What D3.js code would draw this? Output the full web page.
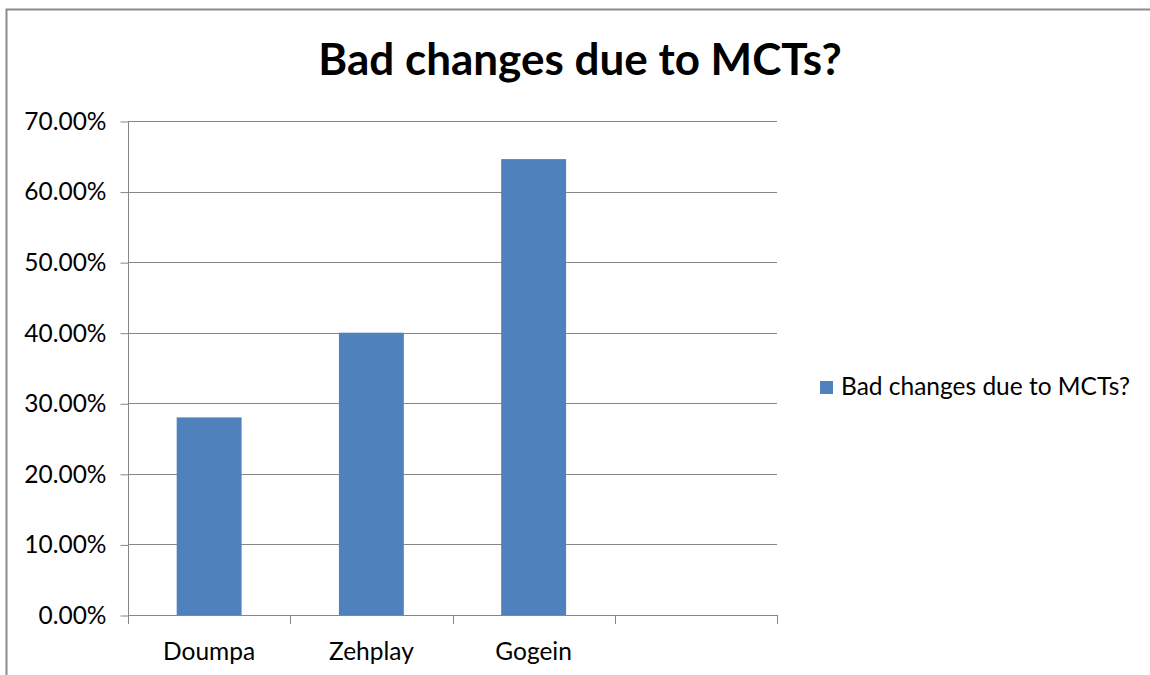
<!DOCTYPE html>
<html>
<head>
<meta charset="utf-8">
<script src="https://cdn.jsdelivr.net/npm/d3@7"></script>
<style>
  html, body { margin: 0; padding: 0; background: #fff; }
  svg { display: block; }
  text { font-family: Lato, "Open Sans", sans-serif; fill: #000; }
</style>
</head>
<body>
<svg id="chart" width="1150" height="675"></svg>
<script>
// Chart data
const categories = ["Doumpa", "Zehplay", "Gogein", ""];
const seriesName = "Bad changes due to MCTs?";
const seriesValues = [0.28, 0.40, 0.646, null];
const yTicks = [0, 0.1, 0.2, 0.3, 0.4, 0.5, 0.6, 0.7];
const chartTitle = "Bad changes due to MCTs?";

const svg = d3.select("#chart");
const W = 1150, H = 675;
const plot = { left: 128, right: 777, top: 121, bottom: 615 };
const barColor = "#4F81BD";
const gridColor = "#868686";
const labelSize = "24.5px";

// Outer chart frame (top and left edges visible)
svg.append("path")
  .attr("d", `M6.5,${H} L6.5,9.5 L${W},9.5`)
  .attr("fill", "none")
  .attr("stroke", "#8c8c8c")
  .attr("stroke-width", 2);

// Title
svg.append("text")
  .attr("x", 580)
  .attr("y", 75)
  .attr("text-anchor", "middle")
  .style("font-weight", "bold")
  .style("font-size", "44px")
  .text(chartTitle);

// One band per category; bars are centred in their band
const xb = d3.scaleBand()
  .domain(categories.map((c, i) => i))
  .range([plot.left, plot.right]);
const barWidth = xb.bandwidth() / 2.5;

const y = d3.scaleLinear().domain([0, 0.7]).range([plot.bottom, plot.top]);

// Horizontal gridlines
svg.append("g")
  .selectAll("line")
  .data(yTicks.filter(t => t > 0))
  .join("line")
  .attr("x1", plot.left)
  .attr("x2", plot.right)
  .attr("y1", d => Math.round(y(d)) + 0.5)
  .attr("y2", d => Math.round(y(d)) + 0.5)
  .attr("stroke", gridColor)
  .attr("stroke-width", 1);

// Bars
svg.append("g")
  .selectAll("rect")
  .data(seriesValues.map((v, i) => ({ v, i })).filter(d => d.v != null))
  .join("rect")
  .attr("x", d => xb(d.i) + (xb.bandwidth() - barWidth) / 2)
  .attr("width", barWidth)
  .attr("y", d => y(d.v))
  .attr("height", d => y(0) - y(d.v))
  .attr("fill", barColor);

// Y axis
const yAxis = d3.axisLeft(y)
  .tickValues(yTicks)
  .tickFormat(d3.format(".2%"))
  .tickSize(8)
  .tickPadding(14);
const gy = svg.append("g")
  .attr("transform", `translate(${plot.left + 0.5},0.5)`)
  .call(yAxis);
gy.select(".domain").attr("stroke", gridColor).attr("d", `M0,${plot.top}V${plot.bottom}`);
gy.selectAll(".tick line").attr("stroke", gridColor);
gy.selectAll(".tick text")
  .style("font-size", labelSize)
  .style("font-family", "Lato, 'Open Sans', sans-serif")
  .attr("fill", "#000");

// X axis: ticks at category boundaries
const boundaries = categories.map((c, i) => xb(i)).concat([plot.right]);
const gx = svg.append("g");
gx.append("line")
  .attr("x1", plot.left).attr("x2", plot.right)
  .attr("y1", plot.bottom + 0.5).attr("y2", plot.bottom + 0.5)
  .attr("stroke", gridColor);
gx.selectAll("line.tk")
  .data(boundaries)
  .join("line")
  .attr("class", "tk")
  .attr("x1", d => Math.round(d) + 0.5).attr("x2", d => Math.round(d) + 0.5)
  .attr("y1", plot.bottom).attr("y2", plot.bottom + 9)
  .attr("stroke", gridColor);
gx.selectAll("text")
  .data(categories.map((c, i) => ({ c, i })))
  .join("text")
  .attr("x", d => xb(d.i) + xb.bandwidth() / 2)
  .attr("y", 660)
  .attr("text-anchor", "middle")
  .style("font-size", labelSize)
  .text(d => d.c);

// Legend
const lg = svg.append("g").attr("transform", "translate(820,381)");
lg.append("rect").attr("width", 13).attr("height", 13).attr("fill", barColor);
lg.append("text")
  .attr("x", 21)
  .attr("y", 14)
  .style("font-size", labelSize)
  .text(seriesName);
</script>
</body>
</html>
